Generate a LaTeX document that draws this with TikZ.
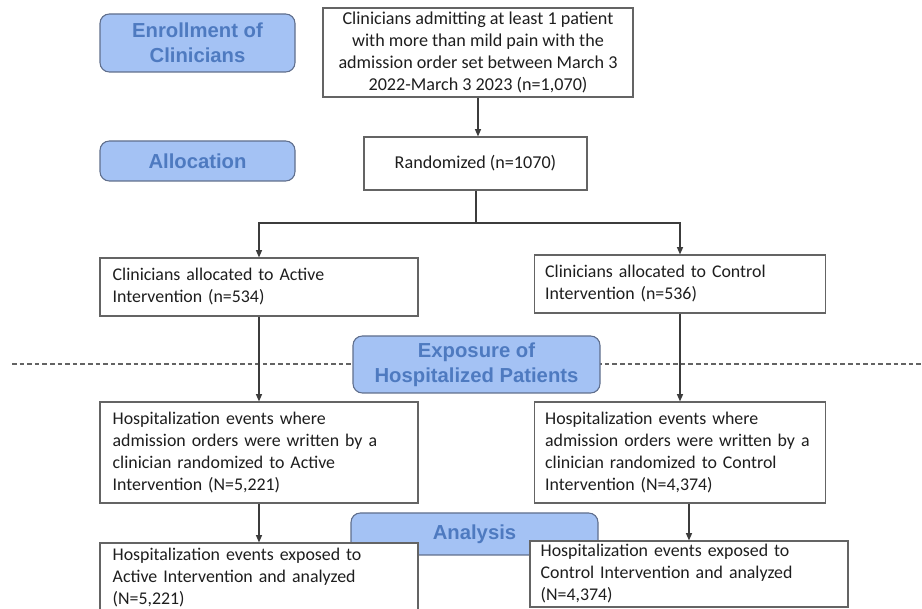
\documentclass[tikz,border=0pt]{standalone}
\usepackage{fontspec}
\setmainfont{Carlito}
\newfontfamily\phasefam{Liberation Sans}
\usetikzlibrary{arrows.meta}
\definecolor{phasefill}{RGB}{164,194,244}
\definecolor{phaseline}{RGB}{95,110,140}
\definecolor{phasetext}{RGB}{78,122,192}
\definecolor{boxline}{RGB}{100,100,100}
\definecolor{linkcol}{RGB}{60,60,60}
\definecolor{txtcol}{RGB}{30,30,30}
\tikzset{
  phase/.style={draw=phaseline, line width=0.8pt, fill=phasefill, rounded corners=7pt,
    text=phasetext, align=center, inner sep=0pt,
    font=\phasefam\bfseries\fontsize{15.2}{18.5}\selectfont},
  boxc/.style={draw=boxline, line width=0.8pt, fill=white, text=txtcol, align=center,
    inner sep=0pt, font=\fontsize{13.6}{16.5}\selectfont},
  boxl/.style={draw=boxline, line width=0.8pt, fill=white, text=txtcol, align=left,
    inner ysep=0pt, inner xsep=8pt, font=\fontsize{13.4}{16.5}\selectfont},
  link/.style={draw=linkcol, line width=0.9pt},
  arr/.style={link, -{Triangle[length=5.5pt,width=4.5pt]}},
  sepline/.style={draw=linkcol!80, line width=0.9pt, dash pattern=on 3.5pt off 2.2pt}
}
\begin{document}
\begin{tikzpicture}[x=0.75pt,y=-0.75pt]
\useasboundingbox (0,0) rectangle (922,609);
% dashed separator (behind)
\coordinate (dl) at (12,364);
\coordinate (dr) at (922,364);
\draw[sepline] (dl) -- (dr);
% phase labels
\node[phase, minimum width=146.25pt, minimum height=43.5pt] (enroll) at (197.5,43) {Enrollment of\\Clinicians};
\node[phase, minimum width=146.25pt, minimum height=30pt] (alloc) at (197.5,161) {Allocation};
\node[phase, minimum width=185.25pt, minimum height=42.75pt] (expo) at (476.5,364.5) {Exposure of\\Hospitalized Patients};
\node[phase, minimum width=185.25pt, minimum height=31.5pt] (anal) at (474.5,534) {Analysis};
% boxes
\node[boxc, minimum width=232.5pt, minimum height=66.75pt] (top) at (478,52.5)
  {Clinicians admitting at least 1 patient\\with more than mild pain with the\\admission order set between March 3\\2022-March 3 2023 (n=1,070)};
\node[boxc, minimum width=167.25pt, minimum height=39.75pt] (rand) at (475.5,163.5) {Randomized (n=1070)};
\node[boxl, inner xsep=9.5pt, text width=219.5pt, minimum height=43.5pt] (la) at (259,287)
  {Clinicians allocated to Active\\Intervention (n=534)};
\node[boxl, text width=202.25pt, minimum height=43.5pt] (ra) at (680,284)
  {Clinicians allocated to Control\\Intervention (n=536)};
\node[boxl, inner xsep=9.5pt, text width=219.5pt, minimum height=75.75pt] (lb) at (259,452.5)
  {Hospitalization events where\\admission orders were written by a\\clinician randomized to Active\\Intervention (N=5,221)};
\node[boxl, text width=202.25pt, minimum height=75.75pt] (rb) at (680,452.5)
  {Hospitalization events where\\\mbox{admission orders were written by a}\\clinician randomized to Control\\Intervention (N=4,374)};
\node[boxl, inner xsep=9.5pt, text width=219.5pt, minimum height=52.5pt] (lc) at (259,578)
  {Hospitalization events exposed to\\Active Intervention and analyzed\\(N=5,221)};
\node[boxl, text width=222.5pt, minimum height=49.5pt] (rc) at (689,574)
  {Hospitalization events exposed to\\Control Intervention and analyzed\\(N=4,374)};
% connectors
\coordinate (split) at (476,223);
\draw[arr] (top.south) -- (top.south |- rand.north);
\draw[link] (rand.south -| split) -- (split);
\draw[arr] (split) -| (la.north);
\draw[arr] (split) -| (ra.north);
\draw[arr] (la.south) -- (lb.north);
\draw[arr] (ra.south) -- (rb.north);
\draw[arr] (lb.south) -- (lc.north);
\draw[arr] (rc.north |- rb.south) -- (rc.north);
\end{tikzpicture}
\end{document}
